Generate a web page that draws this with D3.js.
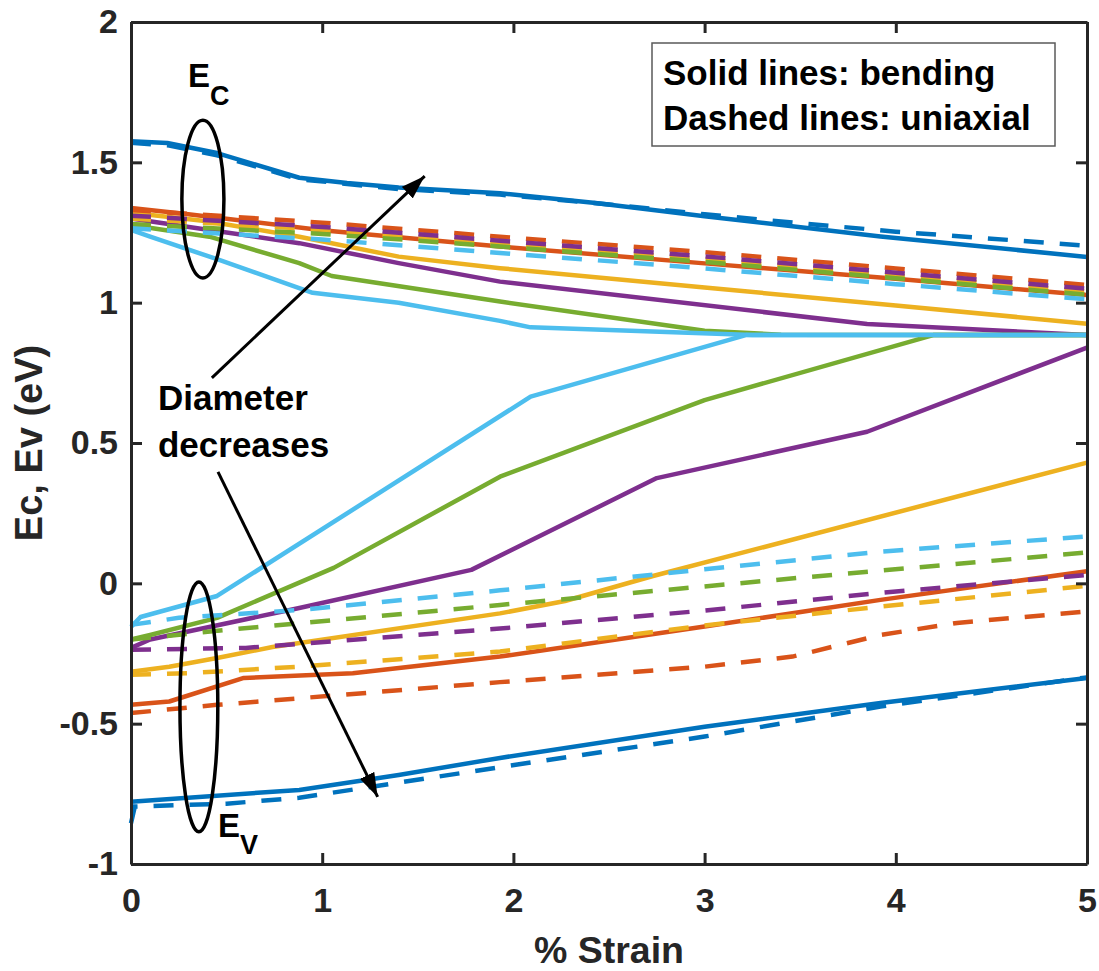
<!DOCTYPE html>
<html>
<head>
<meta charset="utf-8">
<script src="https://cdn.jsdelivr.net/npm/d3@7"></script>
<style>
  html, body { margin: 0; padding: 0; background: #fff; }
  svg { display: block; font-family: "Liberation Sans", Arial, Helvetica, sans-serif; font-weight: bold; }
</style>
</head>
<body>
<svg id="chart" width="1099" height="971"></svg>
<script>
// ---------------- DATA ----------------
const seriesColors = ["#0072BD", "#D95319", "#EDB120", "#7E2F8E", "#77AC30", "#4DBEEE"];
const xTicks = [0, 1, 2, 3, 4, 5];
const yTicks = [-1, -0.5, 0, 0.5, 1, 1.5, 2];
const yTickLabels = ["-1", "-0.5", "0", "0.5", "1", "1.5", "2"];

// Conduction band edge Ec, bending (solid) — [strain %, eV]
const ecBendBlue   = [[0,1.575],[0.19,1.569],[0.45,1.533],[0.88,1.445],[1.13,1.426],[1.4,1.41],[1.93,1.39],[2.43,1.355],[3.0,1.308],[3.92,1.236],[5,1.163]];
const ecBendOrange = [[0,1.337],[0.3,1.315],[1,1.258],[1.93,1.2],[3,1.14],[4,1.085],[5,1.027]];
const ecBendYellow = [[0,1.32],[0.41,1.289],[0.88,1.235],[1.4,1.164],[1.93,1.123],[3,1.054],[4,0.99],[5,0.925]];
const ecBendPurple = [[0,1.30],[0.41,1.259],[0.88,1.212],[1.4,1.141],[1.93,1.075],[3.85,0.924],[5,0.885]];
const ecBendGreen  = [[0,1.277],[0.41,1.235],[0.88,1.141],[1.05,1.095],[1.93,1.004],[3.0,0.9],[3.4,0.886],[5,0.885]];
const ecBendCyan   = [[0,1.259],[0.1,1.235],[0.45,1.155],[0.95,1.035],[1.4,1.0],[1.93,0.935],[2.09,0.912],[3.25,0.885],[5,0.885]];

// Ec, uniaxial (dashed)
const ecUniBlue   = [[0,1.57],[0.2,1.56],[0.45,1.525],[0.88,1.44],[1.4,1.405],[1.93,1.385],[2.5,1.35],[3.0,1.315],[3.5,1.283],[4,1.253],[5,1.203]];
const ecUniOrange = [[0,1.33],[1,1.285],[1.93,1.235],[3,1.18],[4,1.122],[5,1.063]];
const ecUniYellow = [[0,1.30],[1,1.26],[1.93,1.21],[3,1.155],[4,1.097],[5,1.04]];
const ecUniPurple = [[0,1.31],[1,1.27],[1.93,1.221],[3,1.165],[4,1.107],[5,1.05]];
const ecUniGreen  = [[0,1.28],[1,1.245],[1.93,1.2],[3,1.145],[4,1.087],[5,1.028]];
const ecUniCyan   = [[0,1.265],[1,1.225],[1.93,1.177],[3,1.122],[4,1.066],[5,1.012]];

// Valence band edge Ev, bending (solid)
const evBendBlue   = [[0,-0.778],[0.88,-0.736],[1.4,-0.683],[1.93,-0.622],[3.0,-0.511],[3.92,-0.426],[5,-0.337]];
const evBendOrange = [[0,-0.433],[0.2,-0.421],[0.59,-0.337],[1.16,-0.32],[1.93,-0.261],[3,-0.154],[3.92,-0.059],[5,0.043]];
const evBendYellow = [[0,-0.315],[0.2,-0.297],[0.45,-0.266],[0.74,-0.227],[1.93,-0.107],[2.27,-0.063],[2.73,0.026],[5,0.43]];
const evBendPurple = [[0,-0.23],[0.1,-0.2],[0.88,-0.088],[1.78,0.048],[2.75,0.375],[3.85,0.54],[5,0.84]];
const evBendGreen  = [[0,-0.2],[0.1,-0.184],[0.45,-0.123],[1.06,0.055],[1.93,0.38],[3.0,0.653],[4.2,0.885],[5,0.885]];
const evBendCyan   = [[0,-0.155],[0.05,-0.12],[0.45,-0.045],[2.09,0.665],[3.22,0.885],[5,0.885]];

// Ev, uniaxial (dashed)
const evUniBlue   = [[0,-0.855],[0.02,-0.795],[0.5,-0.785],[0.88,-0.764],[1.93,-0.655],[3,-0.546],[3.92,-0.439],[5,-0.335]];
const evUniOrange = [[0,-0.462],[0.45,-0.433],[1.93,-0.352],[3,-0.297],[3.46,-0.261],[3.92,-0.184],[4.32,-0.141],[5,-0.1]];
const evUniYellow = [[0,-0.326],[0.3,-0.32],[0.88,-0.297],[1.93,-0.243],[3,-0.15],[3.92,-0.083],[5,-0.009]];
const evUniPurple = [[0,-0.237],[0.6,-0.23],[1.93,-0.161],[3,-0.097],[3.92,-0.034],[5,0.03]];
const evUniGreen  = [[0,-0.2],[0.5,-0.166],[1.93,-0.077],[3.5,0.02],[5,0.11]];
const evUniCyan   = [[0,-0.148],[0.25,-0.123],[0.88,-0.095],[1.93,-0.025],[3,0.05],[3.92,0.113],[5,0.167]];

const bendingLines = [ecBendBlue, ecBendOrange, ecBendYellow, ecBendPurple, ecBendGreen, ecBendCyan,
                      evBendBlue, evBendOrange, evBendYellow, evBendPurple, evBendGreen, evBendCyan];
const uniaxialLines = [ecUniBlue, ecUniOrange, ecUniYellow, ecUniPurple, ecUniGreen, ecUniCyan,
                       evUniBlue, evUniOrange, evUniYellow, evUniPurple, evUniGreen, evUniCyan];

// Annotation anchors (data units)
const arrowUp   = [[0.423, 0.732], [1.536, 1.451]];
const arrowDown = [[0.455, 0.397], [1.29, -0.761]];
const ellipseEc = { cx: 0.376, cy: 1.369, rx: 0.11, ry: 0.281 };
const ellipseEv = { cx: 0.355, cy: -0.44, rx: 0.099, ry: 0.445 };
const legendLines = ["Solid lines: bending", "Dashed lines: uniaxial"];

// ---------------- LAYOUT ----------------
const svg = d3.select("#chart");
const margin = { left: 131, top: 22, right: 1099 - 1087, bottom: 971 - 864 };
const W = 1099 - margin.left - margin.right;
const H = 971 - margin.top - margin.bottom;
const axisColor = "#262626";

const x = d3.scaleLinear().domain([0, 5]).range([margin.left, margin.left + W]);
const y = d3.scaleLinear().domain([-1, 2]).range([margin.top + H, margin.top]);

const line = d3.line().x(d => x(d[0])).y(d => y(d[1]));

const plot = svg.append("g");
bendingLines.forEach((s, i) => {
  plot.append("path").datum(s).attr("d", line)
    .attr("fill", "none").attr("stroke", seriesColors[i % 6])
    .attr("stroke-width", 4.5).attr("stroke-linejoin", "round");
});
uniaxialLines.forEach((s, i) => {
  plot.append("path").datum(s).attr("d", line)
    .attr("fill", "none").attr("stroke", seriesColors[i % 6])
    .attr("stroke-width", 4.5).attr("stroke-dasharray", "20,16");
});

// ---------------- AXES ----------------
function styleAxis(g) {
  g.selectAll("path.domain").attr("stroke", axisColor).attr("stroke-width", 3);
  g.selectAll(".tick line").attr("stroke", axisColor).attr("stroke-width", 3);
  g.selectAll(".tick text").attr("fill", axisColor)
    .style("font-size", "34px").style("font-weight", "bold")
    .style("font-family", "'Liberation Sans', Arial, sans-serif");
}
svg.append("g").attr("transform", `translate(0,${margin.top + H})`)
  .call(d3.axisBottom(x).tickValues(xTicks).tickFormat(d3.format("d")).tickSize(-11).tickSizeOuter(0).tickPadding(24))
  .call(styleAxis);
svg.append("g").attr("transform", `translate(0,${margin.top})`)
  .call(d3.axisTop(x).tickValues(xTicks).tickFormat("").tickSize(-11).tickSizeOuter(0))
  .call(styleAxis);
svg.append("g").attr("transform", `translate(${margin.left},0)`)
  .call(d3.axisLeft(y).tickValues(yTicks).tickFormat((d, i) => yTickLabels[i]).tickSize(-11).tickSizeOuter(0).tickPadding(13))
  .call(styleAxis);
svg.append("g").attr("transform", `translate(${margin.left + W},0)`)
  .call(d3.axisRight(y).tickValues(yTicks).tickFormat("").tickSize(-11).tickSizeOuter(0))
  .call(styleAxis);

// Axis titles
svg.append("text").attr("x", x(2.5)).attr("y", 963).attr("text-anchor", "middle")
  .attr("fill", axisColor).style("font-size", "37.5px").text("% Strain");
svg.append("text").attr("transform", `translate(42,${y(0.5)}) rotate(-90)`).attr("text-anchor", "middle")
  .attr("fill", axisColor).style("font-size", "38px").text("Ec, Ev (eV)");

// ---------------- ANNOTATIONS ----------------
const defs = svg.append("defs");
defs.append("marker").attr("id", "head").attr("viewBox", "0 0 24 16")
  .attr("refX", 24).attr("refY", 8).attr("markerWidth", 24).attr("markerHeight", 16)
  .attr("markerUnits", "userSpaceOnUse").attr("orient", "auto")
  .append("path").attr("d", "M0,0 L24,8 L0,16 Z").attr("fill", "#000");

[arrowUp, arrowDown].forEach(a => {
  svg.append("line")
    .attr("x1", x(a[0][0])).attr("y1", y(a[0][1]))
    .attr("x2", x(a[1][0])).attr("y2", y(a[1][1]))
    .attr("stroke", "#000").attr("stroke-width", 3).attr("marker-end", "url(#head)");
});

[ellipseEc, ellipseEv].forEach(e => {
  svg.append("ellipse")
    .attr("cx", x(e.cx)).attr("cy", y(e.cy))
    .attr("rx", x(e.rx) - x(0)).attr("ry", y(0) - y(e.ry))
    .attr("fill", "none").attr("stroke", "#000").attr("stroke-width", 3.5);
});

// E_C label
const ec = svg.append("text").attr("x", x(0.298)).attr("y", y(1.768)).attr("fill", "#000").style("font-size", "33px");
ec.append("tspan").text("E");
ec.append("tspan").attr("dy", 18).style("font-size", "27px").text("C");

// E_V label
const ev = svg.append("text").attr("x", x(0.455)).attr("y", y(-0.903)).attr("fill", "#000").style("font-size", "33px");
ev.append("tspan").text("E");
ev.append("tspan").attr("dy", 17).style("font-size", "27px").text("V");

// "Diameter decreases"
svg.append("text").attr("x", x(0.141)).attr("y", y(0.618)).attr("fill", "#000").style("font-size", "35px").text("Diameter");
svg.append("text").attr("x", x(0.141)).attr("y", y(0.451)).attr("fill", "#000").style("font-size", "35px").text("decreases");

// Legend box
const lg = svg.append("g");
lg.append("rect").attr("x", 652).attr("y", 43).attr("width", 403).attr("height", 103)
  .attr("fill", "#fff").attr("stroke", "#5a5a5a").attr("stroke-width", 1.5);
legendLines.forEach((t, i) => {
  lg.append("text").attr("x", 663).attr("y", 85 + i * 45).attr("fill", "#000")
    .style("font-size", "35px").text(t);
});
</script>
</body>
</html>
